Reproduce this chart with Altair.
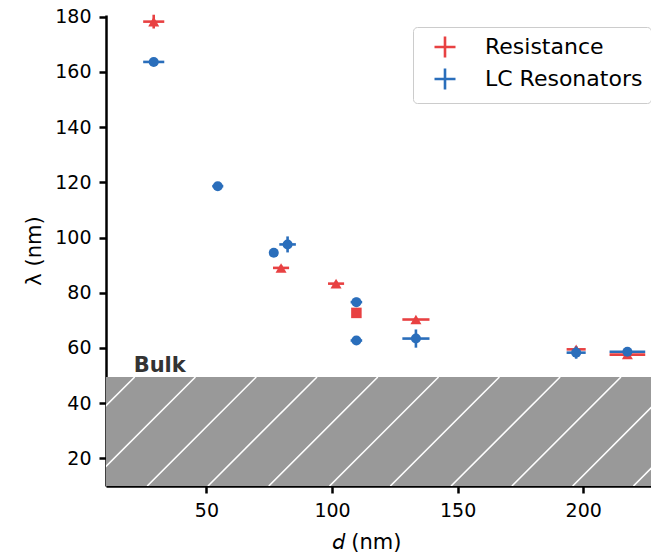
import altair as alt
import pandas as pd
import numpy as np

# ---- data ----
res_d = [29.0, 79.7, 101.6, 109.7, 133.4, 197.2, 217.6]
res_lam = [178.2, 89.0, 83.3, 72.7, 70.3, 59.5, 57.6]
res_dd = [4.2, 3.2, 3.2, 0.0, 5.4, 3.8, 7.1]
res_dlam = [2.5, 1.0, 1.0, 0.5, 0.5, 1.0, 1.0]
res_marker = ["triangle", "triangle", "triangle", "square", "triangle", "triangle", "triangle"]

lc_d = [29.0, 54.5, 76.8, 82.3, 109.7, 109.7, 133.4, 197.2, 217.6]
lc_lam = [163.6, 118.6, 94.5, 97.5, 76.6, 62.7, 63.4, 58.3, 58.6]
lc_dd = [4.2, 2.2, 0.0, 3.3, 2.3, 2.3, 5.4, 3.8, 7.1]
lc_dlam = [0.5, 0.5, 0.0, 2.9, 1.6, 0.3, 3.3, 2.2, 1.5]
lc_marker = ["circle"] * len(lc_d)

series_names = ["Resistance", "LC Resonators"]
series_colors = ["#E84142", "#2A6EBB"]

bulk_lambda = 49.5
bulk_label = "Bulk"
bulk_label_d = 21.0

x_domain = [10, 227]
y_domain = [10, 180.6]
x_ticks = [50, 100, 150, 200]
y_ticks = [20, 40, 60, 80, 100, 120, 140, 160, 180]

# ---- layout ----
W, H = 545, 471
FONT = "DejaVu Sans"

df = pd.concat([
    pd.DataFrame({"series": series_names[0], "d": res_d, "lam": res_lam,
                  "dd": res_dd, "dlam": res_dlam, "marker": res_marker}),
    pd.DataFrame({"series": series_names[1], "d": lc_d, "lam": lc_lam,
                  "dd": lc_dd, "dlam": lc_dlam, "marker": lc_marker}),
], ignore_index=True)

band_df = pd.DataFrame({"x0": [x_domain[0]], "x1": [x_domain[1]],
                        "y0": [y_domain[0]], "y1": [bulk_lambda]})

# hatch lines ("/" at 45 degrees on screen) inside the bulk band
kx = W / (x_domain[1] - x_domain[0])
ky = H / (y_domain[1] - y_domain[0])
shift = (bulk_lambda - y_domain[0]) * ky / kx
step = 24.2
starts = 26.4 + step * np.arange(-3, 10)
hatch_df = pd.DataFrame({"hx0": starts, "hx1": starts + shift,
                         "hy0": y_domain[0], "hy1": bulk_lambda})

text_df = pd.DataFrame({"x": [bulk_label_d], "y": [bulk_lambda], "label": [bulk_label]})

xs = alt.Scale(domain=x_domain, nice=False, zero=False)
ys = alt.Scale(domain=y_domain, nice=False, zero=False)
xaxis = alt.Axis(values=x_ticks, title="𝘥 (nm)", titleX=260, titleY=62,
                 titleBaseline="alphabetic", titleAlign="center")
yaxis = alt.Axis(values=y_ticks, title="λ (nm)", titlePadding=10)

color_scale = alt.Scale(domain=series_names, range=series_colors)
legend = alt.Legend(title=None, orient="none", legendX=307, legendY=12,
                    symbolType="M-1,0H1M0,-1V1", symbolSize=441,
                    symbolStrokeWidth=2.6, symbolOffset=12,
                    labelFontSize=22, labelFont=FONT, labelColor="black",
                    labelOffset=28, rowPadding=0, padding=8,
                    strokeColor="#cccccc", fillColor="white", cornerRadius=4)

band = alt.Chart(band_df).mark_rect(color="#999999").encode(
    x=alt.X("x0:Q", scale=xs, axis=xaxis), x2="x1:Q",
    y=alt.Y("y0:Q", scale=ys, axis=yaxis), y2="y1:Q")

hatch = alt.Chart(hatch_df).mark_rule(color="white", strokeWidth=1.6, clip=True).encode(
    x=alt.X("hx0:Q", scale=xs, axis=xaxis), x2="hx1:Q",
    y=alt.Y("hy0:Q", scale=ys, axis=yaxis), y2="hy1:Q")

label = alt.Chart(text_df).mark_text(align="left", baseline="alphabetic", dy=-5,
                                     font=FONT, fontSize=21, fontWeight="bold",
                                     color="#333333").encode(
    x=alt.X("x:Q", scale=xs, axis=xaxis), y=alt.Y("y:Q", scale=ys, axis=yaxis),
    text="label:N")

layers = [band, hatch, label]
for name in series_names:
    base = alt.Chart(df).transform_filter(alt.datum.series == name).transform_calculate(
        xlo="datum.d - datum.dd", xhi="datum.d + datum.dd",
        ylo="datum.lam - datum.dlam", yhi="datum.lam + datum.dlam")
    col = alt.Color("series:N", scale=color_scale, legend=legend)
    hbar = base.mark_rule(strokeWidth=2.6, strokeCap="butt").encode(
        x=alt.X("xlo:Q", scale=xs, axis=xaxis), x2="xhi:Q",
        y=alt.Y("lam:Q", scale=ys, axis=yaxis), color=col)
    vbar = base.mark_rule(strokeWidth=2.6, strokeCap="butt").encode(
        x=alt.X("d:Q", scale=xs, axis=xaxis),
        y=alt.Y("ylo:Q", scale=ys, axis=yaxis), y2="yhi:Q", color=col)
    pts = base.mark_point(filled=True, opacity=1, strokeWidth=0).encode(
        x=alt.X("d:Q", scale=xs, axis=xaxis),
        y=alt.Y("lam:Q", scale=ys, axis=yaxis),
        fill=alt.Fill("series:N", scale=color_scale, legend=None),
        shape=alt.Shape("marker:N", scale=alt.Scale(domain=["triangle", "square", "circle"],
                                                    range=["triangle-up", "square", "circle"]),
                        legend=None),
        size=alt.Size("marker:N", scale=alt.Scale(domain=["triangle", "square", "circle"],
                                                  range=[121, 100, 44]), legend=None))
    layers += [hbar, vbar, pts]

chart = alt.layer(*layers).properties(
    width=W, height=H,
    background="white",
    autosize=alt.AutoSizeParams(type="none"),
    padding={"left": 106, "top": 15, "right": 0, "bottom": 73},
).configure_view(stroke=None).configure_axis(
    grid=False, domainColor="black", domainWidth=2.5, tickColor="black",
    tickWidth=2.5, tickSize=7, labelFont=FONT, labelFontSize=19, labelColor="black",
    labelPadding=8, titleFont=FONT, titleFontSize=21, titleFontWeight="normal",
    titleColor="black",
)

chart.save("out.html", embed_options={"renderer": "svg", "actions": False})
